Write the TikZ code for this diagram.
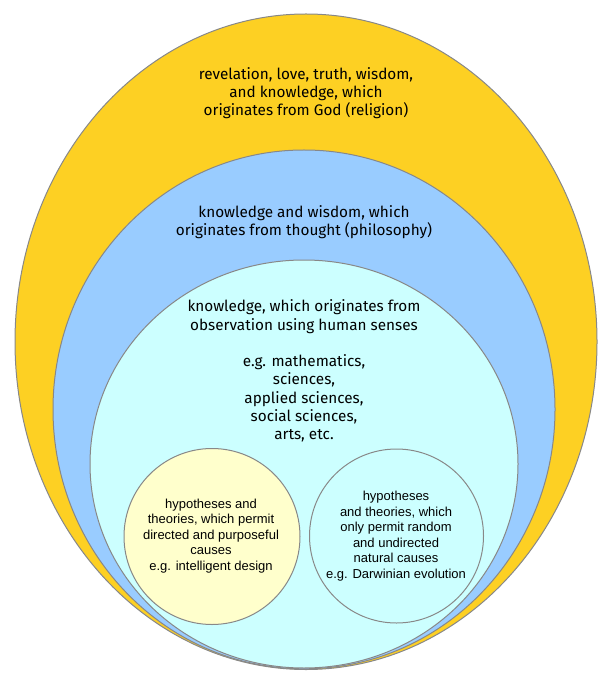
\documentclass[tikz,border=0pt]{standalone}
\usepackage{fontspec}
\setmainfont{Fira Sans}
\newfontfamily\arialish{Liberation Sans}
\usetikzlibrary{shapes.geometric}
\definecolor{godyellow}{HTML}{FDD023}
\definecolor{thoughtblue}{HTML}{99CCFF}
\definecolor{senseCyan}{HTML}{CCFFFF}
\definecolor{designyellow}{HTML}{FFFFCC}
\definecolor{edgegray}{HTML}{888888}
\tikzset{
  region/.style={ellipse, draw=edgegray, line width=1pt, inner sep=0pt, outer sep=0pt},
  bigtext/.style={align=center, font=\fontsize{15.3}{18.2}\selectfont, text=black, inner sep=0pt},
  smalltext/.style={align=center, font=\arialish\fontsize{13}{15.5}\selectfont, text=black, inner sep=0pt}
}
\begin{document}
\begin{tikzpicture}[x=1pt,y=-1pt]
\useasboundingbox (0,0) rectangle (612,684);
\node[region, fill=godyellow, minimum width=582pt, minimum height=655.5pt] (god) at (306,341.75) {};
\node[region, fill=thoughtblue, minimum width=502pt, minimum height=518.8pt] (thought) at (304,409.4) {};
\node[region, fill=senseCyan, minimum width=428pt, minimum height=408pt] (senses) at (304,464) {};
\node[region, circle, fill=designyellow, minimum size=176pt] (design) at (212,536.5) {};
\node[region, circle, fill=senseCyan, minimum size=174pt] (random) at (396.5,536) {};
\node[bigtext] (godtext) at (306,93) {revelation, love, truth, wisdom,\\and knowledge, which\\originates from God (religion)};
\node[bigtext] (thoughttext) at (304,222) {knowledge and wisdom, which\\originates from thought (philosophy)};
\node[bigtext] (sensestext) at (304,371) {knowledge, which originates from\\observation using human senses\\[18.2pt]e.g. mathematics,\\sciences,\\applied sciences,\\social sciences,\\arts, etc.};
\node[smalltext] (designtext) at (211,536) {hypotheses and\\theories, which permit\\directed and purposeful\\causes\\e.g. intelligent design};
\node[smalltext] (randomtext) at (396,536) {hypotheses\\and theories, which\\only permit random\\and undirected\\natural causes\\e.g. Darwinian evolution};
\end{tikzpicture}
\end{document}
